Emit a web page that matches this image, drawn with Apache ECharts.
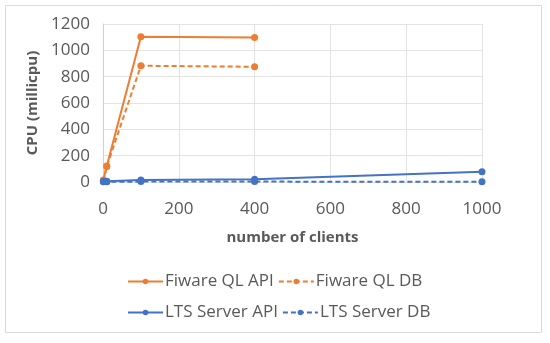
<!DOCTYPE html>
<html><head><meta charset="utf-8">
<script src="https://cdn.jsdelivr.net/npm/echarts@6/dist/echarts.min.js"></script>
<style>html,body{margin:0;padding:0;background:#fff}#c{width:550px;height:343px}</style>
</head><body><div id="c"></div>
<script>
const clients = [1, 10, 100, 400, 1000];
const fiwareApi = [15, 122, 1103, 1098];
const fiwareDb = [8, 118, 883, 875];
const ltsApi = [5, 6, 15, 20, 78];
const ltsDb = [2, 2, 3, 3, 2];
const seriesNames = ['Fiware QL API', 'Fiware QL DB', 'LTS Server API', 'LTS Server DB'];
const xTicks = [0, 200, 400, 600, 800, 1000];
const yTicks = [0, 200, 400, 600, 800, 1000, 1200];

const orange = '#ed7d31', blue = '#4472c4';
const txt = '#595959';
const font = 'Open Sans';
function pairs(vals){ return vals.map((v,i)=>[clients[i], v]); }
function mk(name, vals, color, dashed){
  return {name, type:'line', data:pairs(vals), symbol:'circle', symbolSize:7,
    itemStyle:{color}, lineStyle:{color, width:2, type: dashed?[5,3]:'solid'}, z: dashed?2:3};
}
const chart = echarts.init(document.getElementById('c'), null, {renderer:'canvas'});
chart.setOption({
  animation:false,
  backgroundColor:'#fff',
  graphic:[{type:'rect', shape:{x:5.5,y:5.5,width:536,height:327}, style:{fill:'none', stroke:'#d9d9d9', lineWidth:1}}],
  grid:{left:103, right:68, top:24, bottom:161},
  xAxis:{type:'value', min:xTicks[0], max:xTicks[xTicks.length-1], interval:200,
    name:'number of clients', nameLocation:'middle', nameGap:48,
    nameTextStyle:{color:txt, fontFamily:font, fontSize:15, fontWeight:'bold'},
    axisLine:{show:false}, axisTick:{show:false},
    axisLabel:{color:txt, fontFamily:font, fontSize:17, margin:19, formatter:v=>String(v)},
    splitLine:{show:true, lineStyle:{color:'#e3e3e3', width:1}}},
  yAxis:{type:'value', min:yTicks[0], max:yTicks[yTicks.length-1], interval:200,
    name:'CPU (millicpu)', nameLocation:'middle', nameGap:61,
    nameTextStyle:{color:txt, fontFamily:font, fontSize:15, fontWeight:'bold'},
    axisLine:{show:true, lineStyle:{color:'#d0d0d0'}}, axisTick:{show:false},
    axisLabel:{color:txt, fontFamily:font, fontSize:17, margin:13, formatter:v=>String(v)},
    splitLine:{show:true, lineStyle:{color:'#e3e3e3', width:1}}},
  legend:[
    {data:[seriesNames[0], seriesNames[1]], left:122, top:268, itemWidth:35, itemHeight:7, itemGap:4,
     textStyle:{color:txt, fontFamily:font, fontSize:17, padding:[0,0,0,-3]}},
    {data:[seriesNames[2], seriesNames[3]], left:122, top:299, itemWidth:35, itemHeight:7, itemGap:4,
     textStyle:{color:txt, fontFamily:font, fontSize:17, padding:[0,0,0,-3]}}
  ],
  series:[
    mk(seriesNames[1], fiwareDb, orange, true),
    mk(seriesNames[0], fiwareApi, orange, false),
    mk(seriesNames[3], ltsDb, blue, true),
    mk(seriesNames[2], ltsApi, blue, false)
  ]
});
</script></body></html>
